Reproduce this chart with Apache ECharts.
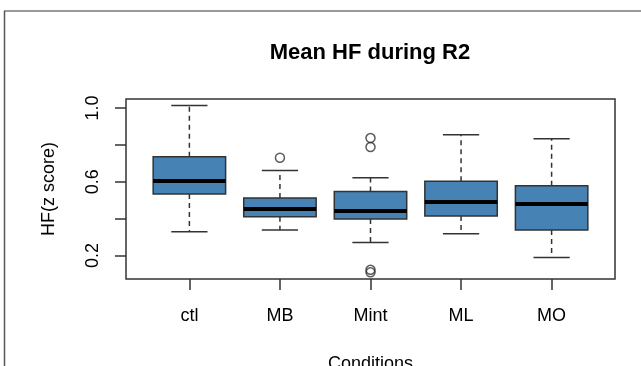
<!DOCTYPE html>
<html>
<head>
<meta charset="utf-8">
<script src="https://cdn.jsdelivr.net/npm/echarts@6/dist/echarts.min.js"></script>
<style>html,body{margin:0;padding:0;background:#fff}#c{width:641px;height:366px}</style>
</head>
<body>
<div id="c"></div>
<script>
// Data (box statistics per condition)
const categories = ['ctl', 'MB', 'Mint', 'ML', 'MO'];
const whiskerLow  = [0.328, 0.338, 0.270, 0.318, 0.189];
const q1          = [0.533, 0.410, 0.397, 0.414, 0.338];
const median      = [0.604, 0.452, 0.441, 0.490, 0.479];
const q3          = [0.736, 0.511, 0.547, 0.602, 0.578];
const whiskerHigh = [1.014, 0.661, 0.622, 0.855, 0.833];
// outliers: [category index (1-based), value]
const outlierCat  = [2, 3, 3, 3, 3];
const outlierVal  = [0.730, 0.837, 0.788, 0.122, 0.108];
const yTicks = [0.2, 0.4, 0.6, 0.8, 1.0];
const yLabels = [0.2, 0.6, 1.0];

const boxData = categories.map((c, i) => [i + 1, whiskerLow[i], q1[i], median[i], q3[i], whiskerHigh[i]]);
const outData = outlierCat.map((c, i) => [c, outlierVal[i]]);

const chart = echarts.init(document.getElementById('c'));
const font = 'Liberation Sans, Arial, sans-serif';
chart.setOption({
  animation: false,
  backgroundColor: '#fff',
  title: {
    text: 'Mean HF during R2',
    left: 370, top: 42, textAlign: 'center', padding: 0,
    textStyle: { fontFamily: font, fontSize: 22, fontWeight: 'bold', color: '#000' }
  },
  graphic: [
    { type: 'line', shape: { x1: 4, y1: 11, x2: 641, y2: 11 }, style: { stroke: '#9a9a9a', lineWidth: 2 } },
    { type: 'line', shape: { x1: 4.5, y1: 11, x2: 4.5, y2: 366 }, style: { stroke: '#555', lineWidth: 1.5 } }
  ],
  grid: {
    left: 126, right: 26, top: 99, bottom: 87,
    outerBoundsMode: 'none', containLabel: false,
    show: true, borderColor: '#333', borderWidth: 1.5, backgroundColor: 'transparent'
  },
  xAxis: {
    type: 'value', min: 0.3, max: 5.7,
    name: 'Conditions', nameLocation: 'middle', nameGap: 76,
    nameTextStyle: { fontFamily: font, fontSize: 18, color: '#000' },
    axisLine: { show: false },
    splitLine: { show: false },
    axisTick: { show: true, length: 11, customValues: [1, 2, 3, 4, 5], lineStyle: { color: '#333', width: 1.5 } },
    axisLabel: {
      customValues: [1, 2, 3, 4, 5], margin: 28,
      fontFamily: font, fontSize: 18, color: '#000',
      formatter: v => categories[Math.round(v) - 1]
    }
  },
  yAxis: {
    type: 'value', min: 0.072, max: 1.049,
    name: 'HF(z score)', nameLocation: 'middle', nameGap: 68, nameRotate: 90,
    nameTextStyle: { fontFamily: font, fontSize: 18, color: '#000' },
    axisLine: { show: false },
    splitLine: { show: false },
    axisTick: { show: true, length: 11, customValues: yTicks, lineStyle: { color: '#333', width: 1.5 } },
    axisLabel: {
      customValues: yLabels, rotate: 90, margin: 24,
      fontFamily: font, fontSize: 18, color: '#000',
      formatter: v => v.toFixed(1)
    }
  },
  series: [
    {
      type: 'custom',
      data: boxData,
      encode: { x: 0, y: [1, 2, 3, 4, 5] },
      renderItem: function (params, api) {
        const x = api.value(0);
        const bw = api.size([0.8, 0])[0];
        const sw = api.size([0.4, 0])[0];
        const pLow = api.coord([x, api.value(1)]);
        const pQ1 = api.coord([x, api.value(2)]);
        const pMed = api.coord([x, api.value(3)]);
        const pQ3 = api.coord([x, api.value(4)]);
        const pHigh = api.coord([x, api.value(5)]);
        const cx = pMed[0];
        const dash = { stroke: '#333', lineWidth: 1.5, lineDash: [5, 4] };
        const solid = { stroke: '#333', lineWidth: 1.5 };
        return {
          type: 'group',
          children: [
            { type: 'line', shape: { x1: cx, y1: pQ3[1], x2: cx, y2: pHigh[1] }, style: dash },
            { type: 'line', shape: { x1: cx, y1: pQ1[1], x2: cx, y2: pLow[1] }, style: dash },
            { type: 'line', shape: { x1: cx - sw / 2, y1: pHigh[1], x2: cx + sw / 2, y2: pHigh[1] }, style: solid },
            { type: 'line', shape: { x1: cx - sw / 2, y1: pLow[1], x2: cx + sw / 2, y2: pLow[1] }, style: solid },
            { type: 'rect', shape: { x: cx - bw / 2, y: pQ3[1], width: bw, height: pQ1[1] - pQ3[1] },
              style: { fill: '#4682B4', stroke: '#333', lineWidth: 1.5 } },
            { type: 'line', shape: { x1: cx - bw / 2, y1: pMed[1], x2: cx + bw / 2, y2: pMed[1] },
              style: { stroke: '#000', lineWidth: 4 } }
          ]
        };
      }
    },
    {
      type: 'scatter',
      data: outData,
      symbol: 'circle',
      symbolSize: 9,
      itemStyle: { color: 'transparent', borderColor: '#333', borderWidth: 1.5 }
    }
  ]
});
</script>
</body>
</html>
